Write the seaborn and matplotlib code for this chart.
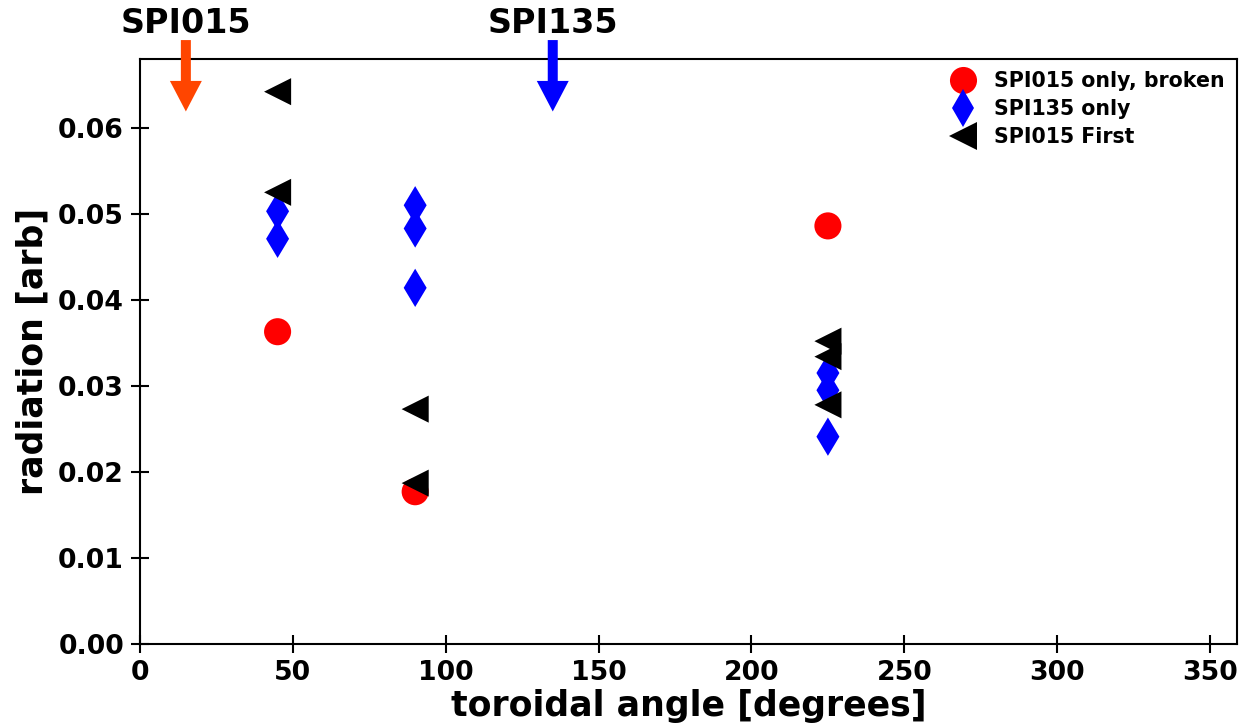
import numpy as np
import pandas as pd
import matplotlib
matplotlib.use("Agg")
import matplotlib.pyplot as plt
import seaborn as sns

# Toroidal angle of each detector and measured radiation, per injection case
angle_broken = [45, 90, 225]
rad_broken = [0.0363, 0.0177, 0.0486]

angle_spi135 = [45, 45, 90, 90, 90, 225, 225, 225]
rad_spi135 = [0.0503, 0.0471, 0.0510, 0.0483, 0.0414, 0.0315, 0.0295, 0.0241]

angle_first = [45, 45, 90, 90, 225, 225, 225]
rad_first = [0.0642, 0.0525, 0.0273, 0.0187, 0.0352, 0.0334, 0.0278]

labels = ["SPI015 only, broken", "SPI135 only", "SPI015 First"]
colors = ["#ff0000", "#0000ff", "#000000"]
markers = ["o", "d", "<"]

# Injector locations marked above the axes
injector_names = ["SPI015", "SPI135"]
injector_angles = [15, 135]
injector_colors = ["#ff4500", "#0000ff"]

df = pd.DataFrame({
    "angle": angle_broken + angle_spi135 + angle_first,
    "radiation": rad_broken + rad_spi135 + rad_first,
    "case": [labels[0]] * len(angle_broken)
    + [labels[1]] * len(angle_spi135)
    + [labels[2]] * len(angle_first),
})

sns.set_style("ticks")
plt.rcParams["font.family"] = ["DejaVu Sans"]
plt.rcParams["font.weight"] = "bold"
plt.rcParams["text.color"] = "black"
plt.rcParams["axes.labelcolor"] = "black"
plt.rcParams["xtick.color"] = "black"
plt.rcParams["ytick.color"] = "black"

fig = plt.figure(figsize=(12.39, 7.26), dpi=100)
ax = fig.add_axes([140 / 1239, 82 / 726, (1237 - 140) / 1239, (644 - 59) / 726])

sns.scatterplot(
    data=df, x="angle", y="radiation", hue="case", style="case",
    hue_order=labels, style_order=labels,
    palette=dict(zip(labels, colors)), markers=dict(zip(labels, markers)),
    s=19.5 ** 2, linewidth=0, alpha=1, ax=ax,
)

ax.set_xlim(0, 358.8)
ax.set_ylim(0, 0.068)
ax.set_xticks(np.arange(0, 351, 50))
ax.set_yticks(np.arange(0, 0.061, 0.01))
ax.yaxis.set_major_formatter(matplotlib.ticker.FormatStrFormatter("%.2f"))

ax.set_xlabel("toroidal angle [degrees]", fontsize=25, fontweight="bold",
              labelpad=2, color="black")
ax.set_ylabel("radiation [arb]", fontsize=25, fontweight="bold",
              labelpad=6, color="black")
ax.tick_params(axis="both", direction="inout", length=13, width=1.5,
               labelsize=19.3, pad=5, colors="black")
for lab in ax.get_xticklabels() + ax.get_yticklabels():
    lab.set_fontweight("bold")
for sp in ax.spines.values():
    sp.set_linewidth(1.5)
    sp.set_color("black")

# Injector arrows and names drawn above the plot area
for name, ang, col in zip(injector_names, injector_angles, injector_colors):
    ax.annotate("", xy=(ang, 0.0619), xytext=(ang, 0.0702),
                arrowprops=dict(width=7.2, headwidth=23, headlength=22,
                                shrink=0, color=col, linewidth=0),
                annotation_clip=False)
    ax.text(ang, 0.0710, name, ha="center", va="baseline", fontsize=24,
            fontweight="bold", color="black", clip_on=False)

handles, lbls = ax.get_legend_handles_labels()
leg = ax.legend(handles, lbls, loc="upper right", frameon=False,
                prop=dict(size=14.8, weight="bold"), handletextpad=0.75,
                labelspacing=0.38, borderaxespad=0.0, handlelength=1.5,
                borderpad=0.6)
for t in leg.get_texts():
    t.set_color("black")

fig.savefig("out.png", dpi=100)
